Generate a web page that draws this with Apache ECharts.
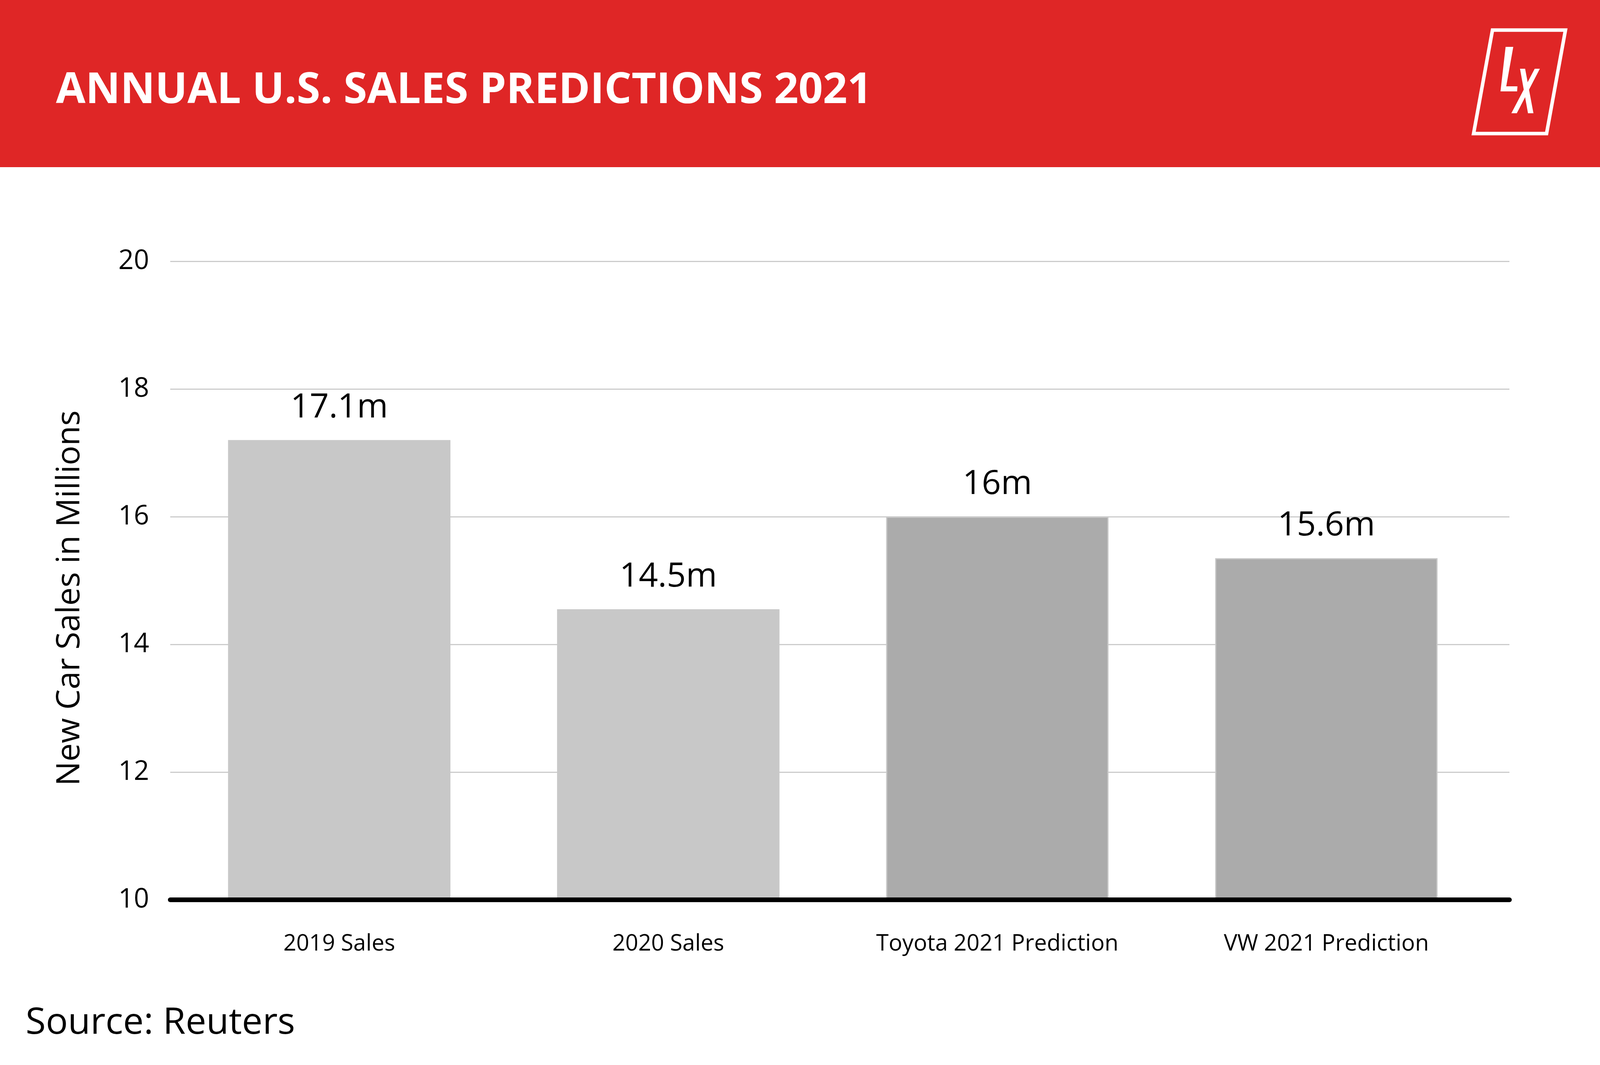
<!DOCTYPE html>
<html>
<head>
  <meta charset="utf-8">
  <title>Annual U.S. Sales Predictions 2021</title>
  <style type="text/css">
    html, body { margin: 0; padding: 0; background: #fff; overflow: hidden; }
    #main { width: 100vw; height: 100vh; }
  </style>
</head>
<body>
<div id="main"></div>
<script type="text/javascript" src="https://cdn.jsdelivr.net/npm/echarts@6.0.0/dist/echarts.min.js"></script>
<script type="text/javascript">
  // data
  var categories = ['2019 Sales', '2020 Sales', 'Toyota 2021 Prediction', 'VW 2021 Prediction'];
  var salesValues = [17.2, 14.55, 16.0, 15.35];
  var valueLabels = ['17.1m', '14.5m', '16m', '15.6m'];
  var barColors = ['#c8c8c8', '#c8c8c8', '#ababab', '#ababab'];
  var yMin = 10, yMax = 20, yStep = 2;

  // layout is measured on a 5000 x 2727 design, scaled to the real window
  var W = window.innerWidth || 5000;
  var H = window.innerHeight || 2727;
  var sx = W / 5000, sy = H / 2727, sk = Math.sqrt(sx * sy);
  function px(v) { return v * sx; }
  function py(v) { return v * sy; }
  function pf(v) { return v * sk; }
  function pts(list) { return list.map(function (p) { return [px(p[0]), py(p[1])]; }); }

  var FONT = '"Open Sans", sans-serif';
  var el = document.getElementById('main');
  el.style.width = W + 'px';
  el.style.height = H + 'px';
  var myChart = echarts.init(el);

  var barData = salesValues.map(function (v, i) {
    var style = {color: barColors[i]};
    if (i > 1) {
      style.borderColor = '#c8c8c8';
      style.borderWidth = 3;
    }
    return {value: v, itemStyle: style};
  });

  var option = {
    backgroundColor: '#fff',
    animation: false,
    textStyle: {fontFamily: FONT},
    title: [
      {
        text: 'ANNUAL U.S. SALES PREDICTIONS 2021',
        left: px(175),
        top: py(243) - pf(72),
        padding: 0,
        textStyle: {color: '#fff', fontSize: pf(121), fontWeight: 'bold', fontFamily: FONT}
      },
      {
        text: 'Source: Reuters',
        left: px(80),
        top: py(2627) - pf(60),
        padding: 0,
        textStyle: {color: '#000', fontSize: pf(104), fontWeight: 'normal', fontFamily: FONT}
      }
    ],
    graphic: [
      {
        type: 'rect', z: -10,
        shape: {x: 0, y: 0, width: W, height: py(428)},
        style: {fill: '#df2626'}
      },
      {
        type: 'polygon',
        shape: {points: pts([[4664, 77], [4892, 77], [4833, 342], [4605, 342]])},
        style: {fill: null, stroke: '#fff', lineWidth: pf(10)}
      },
      {
        type: 'polygon',
        shape: {points: pts([[4705, 120], [4729, 120], [4707, 221], [4742, 221], [4741, 234], [4689, 234]])},
        style: {fill: '#fff'}
      },
      {
        type: 'polygon',
        shape: {points: pts([[4750, 176], [4766, 176], [4792, 290], [4775, 290]])},
        style: {fill: '#fff'}
      },
      {
        type: 'polygon',
        shape: {points: pts([[4796, 176], [4812, 176], [4740, 290], [4723, 290]])},
        style: {fill: '#fff'}
      }
    ],
    grid: [
      {left: px(532), right: px(283), top: py(669), bottom: py(423)},
      {left: px(546), right: px(341), top: py(669), bottom: py(423)}
    ],
    xAxis: [
      {
        type: 'category',
        gridIndex: 0,
        data: categories,
        z: 3,
        axisLine: {lineStyle: {color: '#000', width: py(12)}},
        axisTick: {show: false},
        axisLabel: {show: false},
        splitLine: {show: false}
      },
      {
        type: 'category',
        gridIndex: 1,
        data: categories,
        axisLine: {show: false},
        axisTick: {show: false},
        axisLabel: {color: '#000', fontSize: pf(64), margin: py(2439 - 2304) - pf(56), fontFamily: FONT},
        splitLine: {show: false}
      }
    ],
    yAxis: [
      {
        type: 'value',
        gridIndex: 0,
        min: yMin,
        max: yMax,
        interval: yStep,
        name: 'New Car Sales in Millions',
        nameLocation: 'middle',
        nameGap: px(532 - 212) - py(83) * 0.565,
        nameTextStyle: {color: '#000', fontSize: py(83), fontFamily: FONT, padding: [0, py(90), 0, 0]},
        axisLine: {show: false},
        axisTick: {show: false},
        axisLabel: {color: '#000', fontSize: pf(76), margin: px(66), fontFamily: FONT},
        splitLine: {lineStyle: {color: '#cccccc', width: py(3)}}
      },
      {
        type: 'value',
        gridIndex: 1,
        min: yMin,
        max: yMax,
        interval: yStep,
        show: false,
        splitLine: {show: false}
      }
    ],
    series: [
      {
        name: 'Sales',
        type: 'bar',
        xAxisIndex: 1,
        yAxisIndex: 1,
        barWidth: px(695),
        data: barData,
        label: {
          show: true,
          position: 'top',
          distance: py(55) - pf(17),
          color: '#000',
          fontSize: pf(95),
          fontFamily: FONT,
          formatter: function (p) { return valueLabels[p.dataIndex]; }
        }
      }
    ]
  };

  myChart.setOption(option);
</script>
</body>
</html>
